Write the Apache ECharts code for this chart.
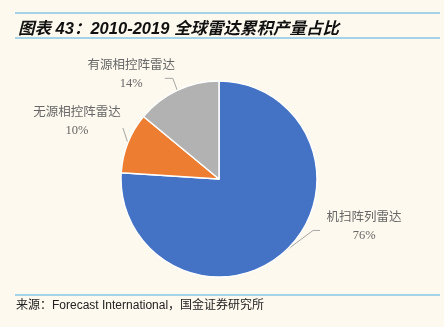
<!DOCTYPE html>
<html>
<head>
<meta charset="utf-8">
<script src="https://cdn.jsdelivr.net/npm/echarts@6/dist/echarts.min.js"></script>
<style>
  html, body { margin: 0; padding: 0; background: #FDF9EE; }
  #chart { width: 444px; height: 327px; }
</style>
</head>
<body>
<div id="chart"></div>
<script>
// Radar output share, 2010-2019 (percent)
const categories = ['机扫阵列雷达', '无源相控阵雷达', '有源相控阵雷达'];
const shares = [76, 10, 14];
const sliceColors = ['#4472C4', '#ED7D31', '#B2B2B2'];

const titleText = '图表 43：2010-2019 全球雷达累积产量占比';
const sourceText = '来源：Forecast International，国金证券研究所';

// Leader-line bends and label centres, relative to each slice's outer edge point
const labelOffsets = [
  { bend: [27, -20], end: [34, -20], center: [78, -24] },
  { bend: [-5, -15], end: [-5, -15], center: [-51, -21] },
  { bend: [-4.5, -12], end: [-12.5, -12], center: [-46, -16] }
];

const labelFont = '"Liberation Serif", "Noto Sans CJK SC", serif';
const sansFont = '"Liberation Sans", "Noto Sans CJK SC", sans-serif';
const ruleColor = '#86C5E6';

const chart = echarts.init(document.getElementById('chart'), null, { renderer: 'canvas' });

chart.setOption({
  backgroundColor: '#FDF9EE',
  animation: false,
  title: {
    text: titleText,
    left: 13,
    top: 16,
    textStyle: {
      fontFamily: sansFont,
      fontSize: 16.5,
      fontWeight: 'bold',
      fontStyle: 'italic',
      color: '#111'
    }
  },
  graphic: [
    { type: 'line', shape: { x1: 15, y1: 13, x2: 440, y2: 13 }, style: { stroke: ruleColor, lineWidth: 1.5 } },
    { type: 'line', shape: { x1: 15, y1: 38, x2: 440, y2: 38 }, style: { stroke: ruleColor, lineWidth: 1.5 } },
    { type: 'line', shape: { x1: 15, y1: 295, x2: 440, y2: 295 }, style: { stroke: ruleColor, lineWidth: 1.5 } },
    {
      type: 'text', left: 16, top: 300,
      style: { text: sourceText, font: '12px ' + sansFont, fill: '#222' }
    }
  ],
  series: [{
    type: 'pie',
    center: [219, 179],
    radius: 98,
    startAngle: 90,
    clockwise: true,
    avoidLabelOverlap: false,
    data: categories.map((name, i) => ({
      name: name,
      value: shares[i],
      itemStyle: { color: sliceColors[i] }
    })),
    itemStyle: { borderColor: '#FFFFFF', borderWidth: 1.5 },
    label: {
      show: true,
      position: 'outside',
      formatter: '{b}\n{c}%',
      fontFamily: labelFont,
      fontSize: 12.5,
      lineHeight: 18,
      color: '#666666'
    },
    labelLine: {
      show: true,
      length: 12,
      length2: 8,
      lineStyle: { color: '#A6A6A6', width: 1 }
    },
    labelLayout: function (params) {
      const o = labelOffsets[params.dataIndex];
      const p0 = params.labelLinePoints[0];
      return {
        x: p0[0] + o.center[0],
        y: p0[1] + o.center[1],
        align: 'center',
        verticalAlign: 'middle',
        labelLinePoints: [
          [p0[0], p0[1]],
          [p0[0] + o.bend[0], p0[1] + o.bend[1]],
          [p0[0] + o.end[0], p0[1] + o.end[1]]
        ]
      };
    },
    emphasis: { disabled: true }
  }]
});
</script>
</body>
</html>
